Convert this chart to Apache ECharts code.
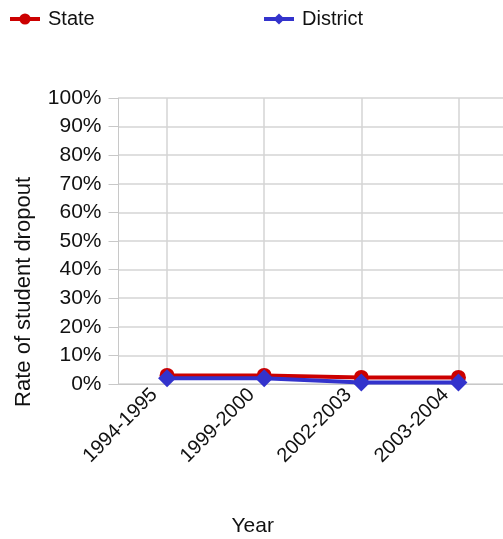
<!DOCTYPE html>
<html>
<head>
<meta charset="utf-8">
<script src="https://cdn.jsdelivr.net/npm/echarts@6/dist/echarts.min.js"></script>
<style>
  html, body { margin: 0; padding: 0; background: #fff; }
  #chart { width: 503px; height: 539px; }
</style>
</head>
<body>
<div id="chart"></div>
<script>
// data
const years = ['1994-1995', '1999-2000', '2002-2003', '2003-2004'];
const stateRate = [3, 3, 2.3, 2.3];
const districtRate = [2, 2, 0.5, 0.5];
const yTicks = [0, 10, 20, 30, 40, 50, 60, 70, 80, 90, 100];

const chart = echarts.init(document.getElementById('chart'));
const font = 'Liberation Sans, Arial, sans-serif';

// one legend per entry so each can sit where the original has it
function legendAt(name, left) {
  return {
    left: left,
    top: 9,
    padding: 0,
    itemWidth: 30,
    itemHeight: 14,
    itemGap: 0,
    lineStyle: { width: 4 },
    textStyle: { fontSize: 20, color: '#111', fontFamily: font, padding: [0, 0, 0, 3] },
    data: [name]
  };
}

chart.setOption({
  animation: false,
  textStyle: { fontFamily: font },
  legend: [legendAt('State', 8), legendAt('District', 262)],
  grid: {
    left: 118.5,
    right: -4,
    top: 98,
    bottom: 155,
    outerBoundsMode: 'none'
  },
  xAxis: {
    type: 'category',
    data: years,
    boundaryGap: true,
    name: 'Year',
    nameLocation: 'middle',
    nameGap: 132,
    nameTextStyle: { fontSize: 21, color: '#111', padding: [0, 0, 0, -120] },
    axisLine: { lineStyle: { color: '#c8c8c8' } },
    axisTick: { show: false, alignWithLabel: true },
    axisLabel: {
      rotate: 45,
      fontSize: 20,
      color: '#111',
      margin: -5,
      padding: [0, 18, 0, 0],
      interval: 0
    },
    splitLine: { show: true, interval: 0, alignWithLabel: true, lineStyle: { color: '#d4d4d4', width: 1.5 } }
  },
  yAxis: {
    type: 'value',
    min: 0,
    max: 100,
    interval: 10,
    axisLine: { show: true, lineStyle: { color: '#c8c8c8' } },
    axisTick: { show: true, length: 10, lineStyle: { color: '#c8c8c8' } },
    axisLabel: {
      fontSize: 21,
      color: '#111',
      margin: 17,
      formatter: function (v) { return yTicks.indexOf(v) >= 0 ? v + '%' : ''; }
    },
    splitLine: { lineStyle: { color: '#d4d4d4', width: 1.5 } }
  },
  graphic: [{
    type: 'text',
    left: 13,
    top: 177,
    rotation: Math.PI / 2,
    style: {
      text: 'Rate of student dropout',
      fontSize: 22,
      fill: '#111',
      fontFamily: font
    }
  }],
  series: [
    {
      name: 'State',
      type: 'line',
      data: stateRate,
      symbol: 'circle',
      symbolSize: 15,
      lineStyle: { width: 4, color: '#cc0000' },
      itemStyle: { color: '#cc0000' }
    },
    {
      name: 'District',
      type: 'line',
      data: districtRate,
      symbol: 'diamond',
      symbolSize: 18,
      lineStyle: { width: 4, color: '#3333cc' },
      itemStyle: { color: '#3333cc' }
    }
  ]
});
</script>
</body>
</html>
